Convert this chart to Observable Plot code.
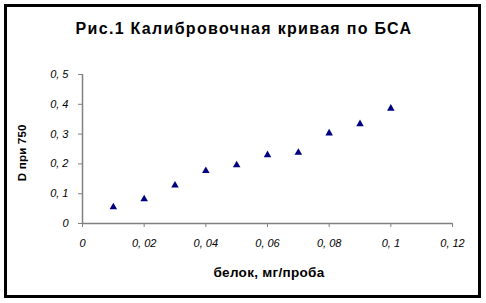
<!DOCTYPE html>
<html>
<head>
<meta charset="utf-8">
<script src="https://cdn.jsdelivr.net/npm/d3@7"></script>
<script src="https://cdn.jsdelivr.net/npm/@observablehq/plot@0.6"></script>
<style>
  html, body { margin: 0; padding: 0; background: #fff; }
  #wrap { position: relative; width: 486px; height: 303px; overflow: hidden; font-family: "Liberation Sans", Arial, sans-serif; }
  #frame { position: absolute; left: 4px; top: 4px; width: 471px; height: 288px; border: 3px solid #000; }
  #title { position: absolute; left: 1px; width: 486px; top: 21px; line-height: 1; text-align: center; font-weight: bold; font-size: 16px; letter-spacing: 1.3px; color: #000; white-space: nowrap; }
  #xlabel { position: absolute; left: 169px; width: 200px; top: 266px; line-height: 1; text-align: center; font-weight: bold; font-size: 13.5px; letter-spacing: 0.3px; color: #000; white-space: nowrap; }
  #ylabel { position: absolute; left: -27px; width: 100px; top: 147px; height: 11.5px; line-height: 1; text-align: center; font-weight: bold; font-size: 11.5px; letter-spacing: 0.2px; color: #000; white-space: nowrap; transform: rotate(-90deg); transform-origin: 50% 50%; }
  #chart { position: absolute; left: 0; top: 0; }
</style>
</head>
<body>
<div id="wrap">
  <div id="frame"></div>
  <div id="chart"></div>
  <div id="title"></div>
  <div id="xlabel"></div>
  <div id="ylabel"></div>
</div>
<script>
const titleText = "Рис.1 Калибровочная кривая по БСА";
const protein = [0.01, 0.02, 0.03, 0.04, 0.05, 0.06, 0.07, 0.08, 0.09, 0.1];
const absorbance = [0.055, 0.082, 0.128, 0.177, 0.196, 0.230, 0.238, 0.303, 0.334, 0.386];
const xTicks = [0, 0.02, 0.04, 0.06, 0.08, 0.1, 0.12];
const yTicks = [0, 0.1, 0.2, 0.3, 0.4, 0.5];
const xLabel = "белок, мг/проба";
const yLabel = "D при 750";

document.getElementById("title").textContent = titleText;
document.getElementById("xlabel").textContent = xLabel;
document.getElementById("ylabel").textContent = yLabel;

const data = protein.map((x, i) => ({x, y: absorbance[i]}));
const fmt = d => String(d).replace(".", ", ");

const plot = Plot.plot({
  width: 486,
  height: 303,
  marginLeft: 82,
  marginRight: 34,
  marginTop: 74,
  marginBottom: 80,
  style: { fontFamily: "'Liberation Sans', Arial, sans-serif", background: "transparent", overflow: "visible" },
  x: { domain: [0, 0.12] },
  y: { domain: [0, 0.5] },
  marks: [
    Plot.axisX({ ticks: xTicks, tickFormat: fmt, tickSize: 4, tickPadding: 12, stroke: "#808080", fill: "#000", fontSize: 11, fontStyle: "italic", label: null }),
    Plot.axisY({ ticks: yTicks, tickFormat: fmt, tickSize: 4, tickPadding: 10, stroke: "#808080", fill: "#000", fontSize: 11, fontStyle: "italic", label: null }),
    Plot.ruleY([0], { stroke: "#808080", strokeWidth: 1.5 }),
    Plot.ruleX([0], { stroke: "#808080", strokeWidth: 1.5 }),
    Plot.dot(data, { x: "x", y: "y", symbol: "triangle", r: 2.8, fill: "#000080", stroke: null })
  ]
});
document.getElementById("chart").appendChild(plot);
</script>
</body>
</html>
